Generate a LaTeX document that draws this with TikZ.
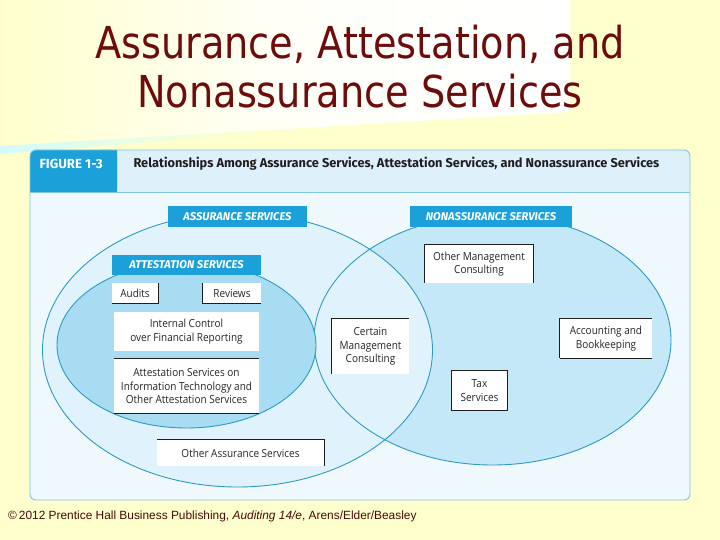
\documentclass[tikz,border=0pt]{standalone}
\usepackage{fontspec}
\setmainfont{Liberation Sans}
\newfontfamily\titlefont[FakeStretch=0.87]{DejaVu Sans}
\newfontfamily\figfont{Fira Sans}
\newfontfamily\boxfont[FakeStretch=0.9]{Open Sans}
\definecolor{pageyellow}{RGB}{255,255,206}
\definecolor{titlered}{RGB}{110,12,12}
\definecolor{footred}{RGB}{70,10,10}
\definecolor{figbg}{RGB}{238,248,253}
\definecolor{headbg}{RGB}{222,241,250}
\definecolor{figborder}{RGB}{125,197,217}
\definecolor{labelblue}{RGB}{27,160,218}
\definecolor{nonfill}{RGB}{196,232,248}
\definecolor{assfill}{RGB}{224,242,252}
\definecolor{attfill}{RGB}{168,220,243}
\definecolor{ellline}{RGB}{46,155,192}
\definecolor{boxline}{RGB}{30,30,30}
\tikzset{
  lbl/.style={fill=labelblue, text=white, inner sep=0pt,
    font=\figfont\fontsize{11.2}{12}\selectfont\bfseries\itshape},
  wbox/.style={fill=white, inner sep=0pt, align=center, text=black!85,
    font=\boxfont\fontsize{11.1}{13.4}\selectfont},
  edge/.style={draw=boxline, line width=0.8pt},
  ell/.style={draw=ellline, line width=0.9pt}
}
\begin{document}
\begin{tikzpicture}[x=1pt,y=-1pt]
\useasboundingbox (0,0) rectangle (720,540);
% page background
\fill[pageyellow] (0,0) rectangle (720,540);
\shade[left color=pageyellow, right color=white, middle color=white!85!pageyellow]
  (0,0) -- (570,0) -- (570,112) -- (0,146) -- cycle;
\shade[left color=black!10!cyan!18, right color=pageyellow]
  (0,146) -- (260,130.5) -- (260,133) -- (0,154) -- cycle;
% title
\node[anchor=base, text=titlered, font=\titlefont\fontsize{44}{50}\selectfont] (t1) at (360,59) {Assurance, Attestation, and};
\node[anchor=base, text=titlered, font=\titlefont\fontsize{44}{50}\selectfont] (t2) at (360,108) {Nonassurance Services};
% figure frame
\fill[figbg, rounded corners=6pt] (30,150) rectangle (690,500);
\fill[headbg, rounded corners=6pt] (30,150) rectangle (690,192);
\fill[headbg] (30,180) rectangle (690,192);
\fill[labelblue, rounded corners=6pt] (30,150) rectangle (117,192);
\fill[labelblue] (30,180) rectangle (117,192) (100,150) rectangle (117,192);
\draw[figborder, line width=0.8pt] (30,192) -- (690,192);
\draw[figborder, line width=0.9pt, rounded corners=6pt] (30,150) rectangle (690,500);
\node[anchor=west, text=white, font=\figfont\fontsize{13.2}{14}\selectfont\bfseries] (fig) at (36,164) {FIGURE 1-3};
\node[anchor=west, text=black!88, font=\figfont\fontsize{12.8}{14}\selectfont\bfseries] (cap) at (130,164) {Relationships Among Assurance Services, Attestation Services, and Nonassurance Services};
% ellipses
\fill[nonfill] (492.5,340) ellipse [x radius=178.5pt, y radius=125pt];
\fill[assfill] (237.5,350) ellipse [x radius=195pt, y radius=137pt];
\draw[ell] (492.5,340) ellipse [x radius=178.5pt, y radius=125pt];
\draw[ell] (237.5,350) ellipse [x radius=195pt, y radius=137pt];
\filldraw[ell, fill=attfill] (186.5,345) ellipse [x radius=129.5pt, y radius=83pt];
% labels
\node[lbl, minimum width=139pt, minimum height=21pt] (asl) at (237.5,216.5) {ASSURANCE SERVICES};
\node[lbl, minimum width=162pt, minimum height=21pt] (nsl) at (491,216.5) {NONASSURANCE SERVICES};
\node[lbl, minimum width=149pt, minimum height=20pt] (atl) at (186.5,265) {ATTESTATION SERVICES};
% boxes
\node[wbox, minimum width=46pt, minimum height=20pt] (aud) at (135,293) {Audits};
\node[wbox, minimum width=58pt, minimum height=20pt] (rev) at (232,293) {Reviews};
\node[wbox, minimum width=145pt, minimum height=39pt] (icfr) at (186.5,331.5) {Internal Control\\over Financial Reporting};
\node[wbox, minimum width=145pt, minimum height=54pt] (asit) at (186.5,386) {Attestation Services on\\Information Technology and\\Other Attestation Services};
\node[wbox, minimum width=167pt, minimum height=26pt] (oas) at (240.5,453) {Other Assurance Services};
\node[wbox, minimum width=108pt, minimum height=38pt] (omc) at (479,264) {Other Management\\Consulting};
\node[wbox, minimum width=77pt, minimum height=55pt] (cmc) at (370.5,346.5) {Certain\\Management\\Consulting};
\node[wbox, minimum width=55pt, minimum height=39pt] (tax) at (479.5,390.5) {Tax\\Services};
\node[wbox, minimum width=92pt, minimum height=39pt] (ab) at (606,338.5) {Accounting and\\Bookkeeping};
% box edges
\draw[edge] (aud.north east) -- (aud.south east) -- (aud.south west);
\draw[edge] (rev.north west) -- (rev.south west) -- (rev.south east);
\draw[edge] (asit.north west) -- (asit.north east);
\draw[edge] (asit.south west) -- (asit.south east);
\draw[edge] (oas.north west) -- (oas.north east) -- (oas.south east);
\draw[edge] (omc.south west) -- (omc.north west) -- (omc.north east) -- (omc.south east);
\draw[edge] (cmc.south west) -- (cmc.north west) -- (cmc.north east);
\draw[edge] (tax.north west) rectangle (tax.south east);
\draw[edge] (ab.south west) -- (ab.north west) -- (ab.north east);
\draw[edge] (ab.south west) -- (ab.south east);
% footer
\node[anchor=base west, inner sep=0pt, text=footred, font=\fontsize{11.9}{13}\selectfont] (foot) at (8,519) {\textcopyright\,2012 Prentice Hall Business Publishing, \textit{Auditing 14/e}, Arens/Elder/Beasley};
\end{tikzpicture}
\end{document}
